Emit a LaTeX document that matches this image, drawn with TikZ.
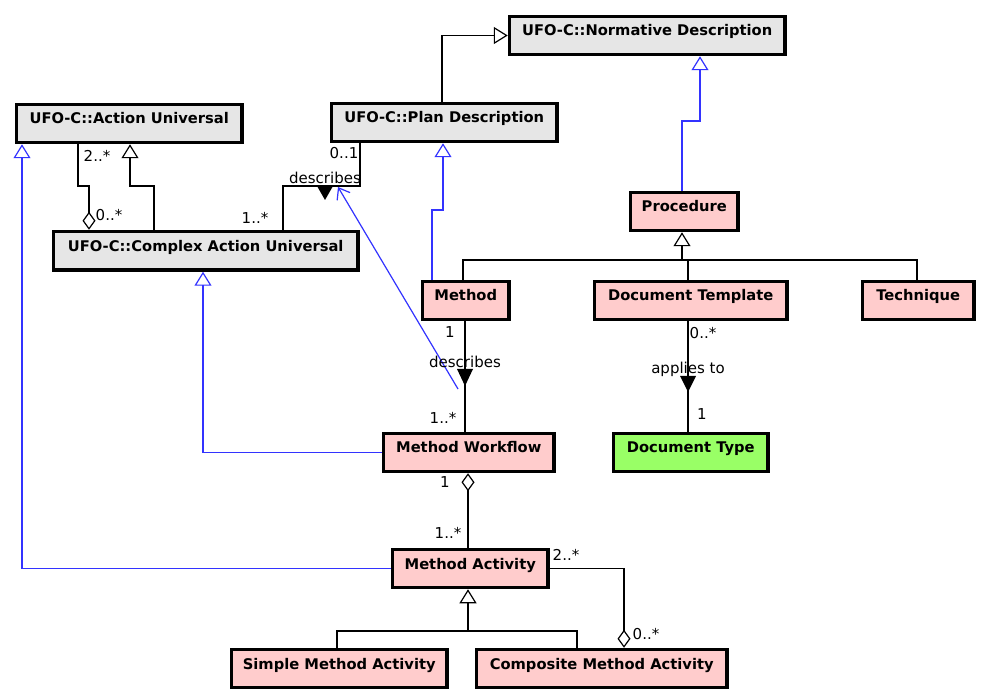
\documentclass[tikz,border=0pt]{standalone}
\usepackage{fontspec}
\setmainfont{DejaVu Sans}
\usetikzlibrary{arrows.meta}
\definecolor{umlgray}{HTML}{E6E6E6}
\definecolor{umlpink}{HTML}{FFCCCC}
\definecolor{umlgreen}{HTML}{99FF66}
\definecolor{umlblue}{HTML}{3333FF}
\tikzset{
  umlbox/.style={draw=black, line width=3.5pt, inner sep=0pt, anchor=north west,
    minimum height=38pt, text height=19.5pt, text depth=18.5pt,
    font=\fontsize{14.7}{17}\selectfont\bfseries},
  lbl/.style={inner sep=0pt, anchor=base, font=\fontsize{15}{17}\selectfont},
  conn/.style={line width=1.2pt, black},
  bconn/.style={line width=1.2pt, umlblue},
  gen/.style={-{Triangle[open, length=14pt, width=17pt]}},
  agg/.style={{Diamond[open, length=18pt, width=13pt]}-},
  reading/.style={fill=black}
}
\newcommand{\umlnode}[7]{% name, left, top, right, bottom, fill, text
  \pgfmathsetmacro{\ww}{#4-#2-3.5}%
  \pgfmathsetmacro{\hh}{#5-#3-3.5}%
  \node[umlbox, fill=#6, minimum width=\ww pt, minimum height=\hh pt] (#1) at (#2+1.75,#3+1.75) {#7};%
}
\begin{document}
\begin{tikzpicture}[x=1pt, y=-1pt]
\fill[white] (0,0) rectangle (986,700);
\useasboundingbox (0,0) rectangle (986,700);

% boxes
\umlnode{norm}{506}{13}{785}{53}{umlgray}{UFO-C::Normative Description}
\umlnode{actu}{13}{101}{242}{142}{umlgray}{UFO-C::Action Universal}
\umlnode{plan}{328}{100}{557}{141}{umlgray}{UFO-C::Plan Description}
\umlnode{cau}{50}{228}{358}{270}{umlgray}{UFO-C::Complex Action Universal}
\umlnode{proc}{627}{189}{738}{230}{umlpink}{Procedure}
\umlnode{meth}{419}{278}{509}{319}{umlpink}{Method}
\umlnode{dtemp}{591}{278}{787}{318}{umlpink}{Document Template}
\umlnode{tech}{859}{278}{974}{318}{umlpink}{Technique}
\umlnode{dtype}{610}{430}{768}{471}{umlgreen}{Document Type}
\umlnode{mwf}{380}{430}{554}{471}{umlpink}{Method Workflow}
\umlnode{mact}{389}{546}{548}{587}{umlpink}{Method Activity}
\umlnode{smact}{228}{646}{447}{687}{umlpink}{Simple Method Activity}
\umlnode{cmact}{473}{646}{727}{687}{umlpink}{Composite Method Activity}

% generalizations (black)
\draw[conn, gen] (442,0 |- plan.north) |- (norm.west);
\draw[conn, gen] (154,0 |- cau.north) -- (154,186) -- (130,186) -- (130,0 |- actu.south);
\draw[conn] (463,0 |- meth.north) -- (463,260) -- (917,260) -- (917,0 |- tech.north);
\draw[conn] (688,0 |- dtemp.north) -- (688,260);
\draw[conn, gen] (682,260) -- (682,0 |- proc.south);
\draw[conn] (337,0 |- smact.north) -- (337,631) -- (577,631) -- (577,0 |- cmact.north);
\draw[conn, gen] (468,631) -- (468,0 |- mact.south);

% generalizations (blue)
\draw[bconn, gen] (682,0 |- proc.north) -- (682,121) -- (700,121) -- (700,0 |- norm.south);
\draw[bconn, gen] (432,0 |- meth.north) -- (432,210) -- (443,210) -- (443,0 |- plan.south);
\draw[bconn, gen] (mwf.west) -| (203,0 |- cau.south);
\draw[bconn, gen] (mact.west) -| (22,0 |- actu.south);

% associations
\draw[conn, agg] (89,0 |- cau.north) -- (89,186) -- (78,186) -- (78,0 |- actu.south);
\draw[conn] (283,0 |- cau.north) -- (283,186) -- (360,186) -- (360,0 |- plan.south);
\draw[conn] (465,0 |- meth.south) -- (465,0 |- mwf.north);
\draw[conn] (688,0 |- dtemp.south) -- (688,0 |- dtype.north);
\draw[conn, agg] (468,0 |- mwf.south) -- (468,0 |- mact.north);
\draw[conn, agg] (624,0 |- cmact.north) |- (mact.east);

% association specialisation (blue)
\coordinate (bs) at (458,389);
\coordinate (be) at (338,187);
\draw[bconn, -{Straight Barb[length=10pt, width=15pt]}] (bs) -- (be);

% reading direction triangles
\fill[reading] (317,186) -- (333,186) -- (325,200) -- cycle;
\fill[reading] (457,369) -- (473,369) -- (465,386) -- cycle;
\fill[reading] (680,376) -- (696,376) -- (688,392) -- cycle;

% labels
\node[lbl] (l1) at (97,162) {2..*};
\node[lbl] (l2) at (109,221) {0..*};
\node[lbl] (l3) at (344,159) {0..1};
\node[lbl] (l4) at (325,184) {describes};
\node[lbl] (l5) at (255,224) {1..*};
\node[lbl] (l6) at (450,338) {1};
\node[lbl] (l7) at (465,368) {describes};
\node[lbl] (l8) at (443,424) {1..*};
\node[lbl] (l9) at (703,339) {0..*};
\node[lbl] (l10) at (688,374) {applies to};
\node[lbl] (l11) at (702,420) {1};
\node[lbl] (l12) at (445,488) {1};
\node[lbl] (l13) at (448,539) {1..*};
\node[lbl] (l14) at (566,560) {2..*};
\node[lbl] (l15) at (646,639) {0..*};
\end{tikzpicture}
\end{document}
